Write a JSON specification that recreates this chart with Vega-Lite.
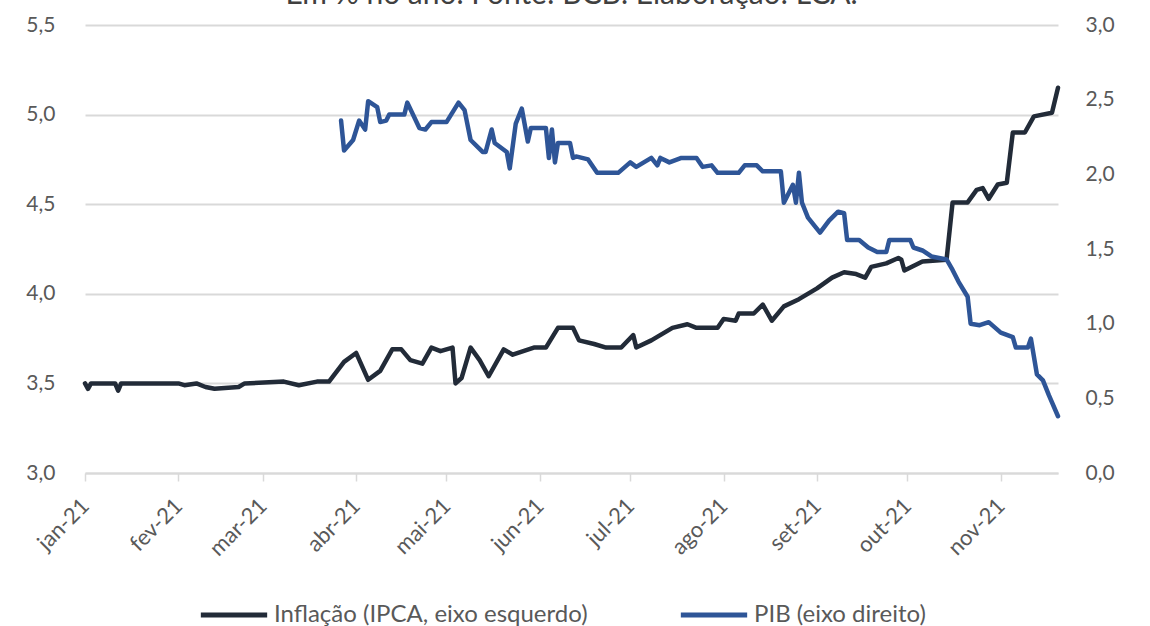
{
  "$schema": "https://vega.github.io/schema/vega-lite/v6.json",
  "width": 973,
  "height": 448,
  "autosize": {"type": "none"},
  "padding": {"left": 85, "top": 25, "right": 92, "bottom": 153},
  "background": "white",
  "config": {
    "font": "Lato",
    "view": {"stroke": null},
    "axis": {"labelFont": "Lato", "labelFontSize": 21, "labelColor": "#595959", "title": null}
  },
  "title": {
    "text": "Em % no ano. Fonte: BCB. Elaboração: LCA.",
    "frame": "group",
    "anchor": "middle",
    "baseline": "alphabetic",
    "offset": 4,
    "dy": 24,
    "fontSize": 30,
    "fontWeight": "normal",
    "font": "Lato",
    "color": "#404040"
  },
  "data": {
    "values": [
      {"data": "2021-01-01", "serie": "Inflação (IPCA, eixo esquerdo)", "valor": 3.50},
      {"data": "2021-01-02", "serie": "Inflação (IPCA, eixo esquerdo)", "valor": 3.47},
      {"data": "2021-01-03", "serie": "Inflação (IPCA, eixo esquerdo)", "valor": 3.50},
      {"data": "2021-01-11", "serie": "Inflação (IPCA, eixo esquerdo)", "valor": 3.50},
      {"data": "2021-01-12", "serie": "Inflação (IPCA, eixo esquerdo)", "valor": 3.46},
      {"data": "2021-01-13", "serie": "Inflação (IPCA, eixo esquerdo)", "valor": 3.50},
      {"data": "2021-02-01", "serie": "Inflação (IPCA, eixo esquerdo)", "valor": 3.50},
      {"data": "2021-02-03", "serie": "Inflação (IPCA, eixo esquerdo)", "valor": 3.49},
      {"data": "2021-02-07", "serie": "Inflação (IPCA, eixo esquerdo)", "valor": 3.50},
      {"data": "2021-02-10", "serie": "Inflação (IPCA, eixo esquerdo)", "valor": 3.48},
      {"data": "2021-02-13", "serie": "Inflação (IPCA, eixo esquerdo)", "valor": 3.47},
      {"data": "2021-02-21", "serie": "Inflação (IPCA, eixo esquerdo)", "valor": 3.48},
      {"data": "2021-02-23", "serie": "Inflação (IPCA, eixo esquerdo)", "valor": 3.50},
      {"data": "2021-03-08", "serie": "Inflação (IPCA, eixo esquerdo)", "valor": 3.51},
      {"data": "2021-03-13", "serie": "Inflação (IPCA, eixo esquerdo)", "valor": 3.49},
      {"data": "2021-03-19", "serie": "Inflação (IPCA, eixo esquerdo)", "valor": 3.51},
      {"data": "2021-03-23", "serie": "Inflação (IPCA, eixo esquerdo)", "valor": 3.51},
      {"data": "2021-03-28", "serie": "Inflação (IPCA, eixo esquerdo)", "valor": 3.62},
      {"data": "2021-04-01", "serie": "Inflação (IPCA, eixo esquerdo)", "valor": 3.67},
      {"data": "2021-04-05", "serie": "Inflação (IPCA, eixo esquerdo)", "valor": 3.52},
      {"data": "2021-04-09", "serie": "Inflação (IPCA, eixo esquerdo)", "valor": 3.57},
      {"data": "2021-04-13", "serie": "Inflação (IPCA, eixo esquerdo)", "valor": 3.69},
      {"data": "2021-04-16", "serie": "Inflação (IPCA, eixo esquerdo)", "valor": 3.69},
      {"data": "2021-04-19", "serie": "Inflação (IPCA, eixo esquerdo)", "valor": 3.63},
      {"data": "2021-04-23", "serie": "Inflação (IPCA, eixo esquerdo)", "valor": 3.61},
      {"data": "2021-04-26", "serie": "Inflação (IPCA, eixo esquerdo)", "valor": 3.70},
      {"data": "2021-04-29", "serie": "Inflação (IPCA, eixo esquerdo)", "valor": 3.68},
      {"data": "2021-05-03", "serie": "Inflação (IPCA, eixo esquerdo)", "valor": 3.70},
      {"data": "2021-05-04", "serie": "Inflação (IPCA, eixo esquerdo)", "valor": 3.50},
      {"data": "2021-05-06", "serie": "Inflação (IPCA, eixo esquerdo)", "valor": 3.53},
      {"data": "2021-05-09", "serie": "Inflação (IPCA, eixo esquerdo)", "valor": 3.70},
      {"data": "2021-05-12", "serie": "Inflação (IPCA, eixo esquerdo)", "valor": 3.63},
      {"data": "2021-05-15", "serie": "Inflação (IPCA, eixo esquerdo)", "valor": 3.54},
      {"data": "2021-05-20", "serie": "Inflação (IPCA, eixo esquerdo)", "valor": 3.69},
      {"data": "2021-05-23", "serie": "Inflação (IPCA, eixo esquerdo)", "valor": 3.66},
      {"data": "2021-05-30", "serie": "Inflação (IPCA, eixo esquerdo)", "valor": 3.70},
      {"data": "2021-06-03", "serie": "Inflação (IPCA, eixo esquerdo)", "valor": 3.70},
      {"data": "2021-06-07", "serie": "Inflação (IPCA, eixo esquerdo)", "valor": 3.81},
      {"data": "2021-06-12", "serie": "Inflação (IPCA, eixo esquerdo)", "valor": 3.81},
      {"data": "2021-06-14", "serie": "Inflação (IPCA, eixo esquerdo)", "valor": 3.74},
      {"data": "2021-06-19", "serie": "Inflação (IPCA, eixo esquerdo)", "valor": 3.72},
      {"data": "2021-06-23", "serie": "Inflação (IPCA, eixo esquerdo)", "valor": 3.70},
      {"data": "2021-06-28", "serie": "Inflação (IPCA, eixo esquerdo)", "valor": 3.70},
      {"data": "2021-07-02", "serie": "Inflação (IPCA, eixo esquerdo)", "valor": 3.77},
      {"data": "2021-07-03", "serie": "Inflação (IPCA, eixo esquerdo)", "valor": 3.70},
      {"data": "2021-07-08", "serie": "Inflação (IPCA, eixo esquerdo)", "valor": 3.74},
      {"data": "2021-07-15", "serie": "Inflação (IPCA, eixo esquerdo)", "valor": 3.81},
      {"data": "2021-07-20", "serie": "Inflação (IPCA, eixo esquerdo)", "valor": 3.83},
      {"data": "2021-07-23", "serie": "Inflação (IPCA, eixo esquerdo)", "valor": 3.81},
      {"data": "2021-07-30", "serie": "Inflação (IPCA, eixo esquerdo)", "valor": 3.81},
      {"data": "2021-08-01", "serie": "Inflação (IPCA, eixo esquerdo)", "valor": 3.86},
      {"data": "2021-08-05", "serie": "Inflação (IPCA, eixo esquerdo)", "valor": 3.85},
      {"data": "2021-08-06", "serie": "Inflação (IPCA, eixo esquerdo)", "valor": 3.89},
      {"data": "2021-08-11", "serie": "Inflação (IPCA, eixo esquerdo)", "valor": 3.89},
      {"data": "2021-08-14", "serie": "Inflação (IPCA, eixo esquerdo)", "valor": 3.94},
      {"data": "2021-08-17", "serie": "Inflação (IPCA, eixo esquerdo)", "valor": 3.85},
      {"data": "2021-08-21", "serie": "Inflação (IPCA, eixo esquerdo)", "valor": 3.93},
      {"data": "2021-08-26", "serie": "Inflação (IPCA, eixo esquerdo)", "valor": 3.97},
      {"data": "2021-09-01", "serie": "Inflação (IPCA, eixo esquerdo)", "valor": 4.03},
      {"data": "2021-09-06", "serie": "Inflação (IPCA, eixo esquerdo)", "valor": 4.09},
      {"data": "2021-09-10", "serie": "Inflação (IPCA, eixo esquerdo)", "valor": 4.12},
      {"data": "2021-09-14", "serie": "Inflação (IPCA, eixo esquerdo)", "valor": 4.11},
      {"data": "2021-09-17", "serie": "Inflação (IPCA, eixo esquerdo)", "valor": 4.09},
      {"data": "2021-09-19", "serie": "Inflação (IPCA, eixo esquerdo)", "valor": 4.15},
      {"data": "2021-09-24", "serie": "Inflação (IPCA, eixo esquerdo)", "valor": 4.17},
      {"data": "2021-09-28", "serie": "Inflação (IPCA, eixo esquerdo)", "valor": 4.20},
      {"data": "2021-09-29", "serie": "Inflação (IPCA, eixo esquerdo)", "valor": 4.19},
      {"data": "2021-09-30", "serie": "Inflação (IPCA, eixo esquerdo)", "valor": 4.13},
      {"data": "2021-10-06", "serie": "Inflação (IPCA, eixo esquerdo)", "valor": 4.18},
      {"data": "2021-10-14", "serie": "Inflação (IPCA, eixo esquerdo)", "valor": 4.19},
      {"data": "2021-10-16", "serie": "Inflação (IPCA, eixo esquerdo)", "valor": 4.51},
      {"data": "2021-10-21", "serie": "Inflação (IPCA, eixo esquerdo)", "valor": 4.51},
      {"data": "2021-10-24", "serie": "Inflação (IPCA, eixo esquerdo)", "valor": 4.58},
      {"data": "2021-10-26", "serie": "Inflação (IPCA, eixo esquerdo)", "valor": 4.59},
      {"data": "2021-10-28", "serie": "Inflação (IPCA, eixo esquerdo)", "valor": 4.53},
      {"data": "2021-10-31", "serie": "Inflação (IPCA, eixo esquerdo)", "valor": 4.61},
      {"data": "2021-11-03", "serie": "Inflação (IPCA, eixo esquerdo)", "valor": 4.62},
      {"data": "2021-11-05", "serie": "Inflação (IPCA, eixo esquerdo)", "valor": 4.90},
      {"data": "2021-11-09", "serie": "Inflação (IPCA, eixo esquerdo)", "valor": 4.90},
      {"data": "2021-11-12", "serie": "Inflação (IPCA, eixo esquerdo)", "valor": 4.99},
      {"data": "2021-11-18", "serie": "Inflação (IPCA, eixo esquerdo)", "valor": 5.01},
      {"data": "2021-11-20", "serie": "Inflação (IPCA, eixo esquerdo)", "valor": 5.15},
      {"data": "2021-03-27", "serie": "PIB (eixo direito)", "valor": 2.36},
      {"data": "2021-03-28", "serie": "PIB (eixo direito)", "valor": 2.16},
      {"data": "2021-03-31", "serie": "PIB (eixo direito)", "valor": 2.23},
      {"data": "2021-04-02", "serie": "PIB (eixo direito)", "valor": 2.36},
      {"data": "2021-04-04", "serie": "PIB (eixo direito)", "valor": 2.30},
      {"data": "2021-04-05", "serie": "PIB (eixo direito)", "valor": 2.49},
      {"data": "2021-04-08", "serie": "PIB (eixo direito)", "valor": 2.45},
      {"data": "2021-04-09", "serie": "PIB (eixo direito)", "valor": 2.35},
      {"data": "2021-04-11", "serie": "PIB (eixo direito)", "valor": 2.36},
      {"data": "2021-04-12", "serie": "PIB (eixo direito)", "valor": 2.40},
      {"data": "2021-04-17", "serie": "PIB (eixo direito)", "valor": 2.40},
      {"data": "2021-04-18", "serie": "PIB (eixo direito)", "valor": 2.48},
      {"data": "2021-04-22", "serie": "PIB (eixo direito)", "valor": 2.31},
      {"data": "2021-04-24", "serie": "PIB (eixo direito)", "valor": 2.30},
      {"data": "2021-04-26", "serie": "PIB (eixo direito)", "valor": 2.35},
      {"data": "2021-05-01", "serie": "PIB (eixo direito)", "valor": 2.35},
      {"data": "2021-05-05", "serie": "PIB (eixo direito)", "valor": 2.48},
      {"data": "2021-05-07", "serie": "PIB (eixo direito)", "valor": 2.43},
      {"data": "2021-05-09", "serie": "PIB (eixo direito)", "valor": 2.23},
      {"data": "2021-05-13", "serie": "PIB (eixo direito)", "valor": 2.15},
      {"data": "2021-05-14", "serie": "PIB (eixo direito)", "valor": 2.15},
      {"data": "2021-05-16", "serie": "PIB (eixo direito)", "valor": 2.30},
      {"data": "2021-05-17", "serie": "PIB (eixo direito)", "valor": 2.21},
      {"data": "2021-05-21", "serie": "PIB (eixo direito)", "valor": 2.15},
      {"data": "2021-05-22", "serie": "PIB (eixo direito)", "valor": 2.04},
      {"data": "2021-05-24", "serie": "PIB (eixo direito)", "valor": 2.34},
      {"data": "2021-05-26", "serie": "PIB (eixo direito)", "valor": 2.44},
      {"data": "2021-05-28", "serie": "PIB (eixo direito)", "valor": 2.22},
      {"data": "2021-05-29", "serie": "PIB (eixo direito)", "valor": 2.31},
      {"data": "2021-06-03", "serie": "PIB (eixo direito)", "valor": 2.31},
      {"data": "2021-06-04", "serie": "PIB (eixo direito)", "valor": 2.11},
      {"data": "2021-06-05", "serie": "PIB (eixo direito)", "valor": 2.30},
      {"data": "2021-06-06", "serie": "PIB (eixo direito)", "valor": 2.08},
      {"data": "2021-06-07", "serie": "PIB (eixo direito)", "valor": 2.21},
      {"data": "2021-06-11", "serie": "PIB (eixo direito)", "valor": 2.21},
      {"data": "2021-06-12", "serie": "PIB (eixo direito)", "valor": 2.11},
      {"data": "2021-06-13", "serie": "PIB (eixo direito)", "valor": 2.12},
      {"data": "2021-06-17", "serie": "PIB (eixo direito)", "valor": 2.10},
      {"data": "2021-06-20", "serie": "PIB (eixo direito)", "valor": 2.01},
      {"data": "2021-06-27", "serie": "PIB (eixo direito)", "valor": 2.01},
      {"data": "2021-07-01", "serie": "PIB (eixo direito)", "valor": 2.08},
      {"data": "2021-07-03", "serie": "PIB (eixo direito)", "valor": 2.05},
      {"data": "2021-07-08", "serie": "PIB (eixo direito)", "valor": 2.11},
      {"data": "2021-07-10", "serie": "PIB (eixo direito)", "valor": 2.06},
      {"data": "2021-07-11", "serie": "PIB (eixo direito)", "valor": 2.11},
      {"data": "2021-07-14", "serie": "PIB (eixo direito)", "valor": 2.08},
      {"data": "2021-07-18", "serie": "PIB (eixo direito)", "valor": 2.11},
      {"data": "2021-07-23", "serie": "PIB (eixo direito)", "valor": 2.11},
      {"data": "2021-07-25", "serie": "PIB (eixo direito)", "valor": 2.05},
      {"data": "2021-07-28", "serie": "PIB (eixo direito)", "valor": 2.06},
      {"data": "2021-07-30", "serie": "PIB (eixo direito)", "valor": 2.01},
      {"data": "2021-08-06", "serie": "PIB (eixo direito)", "valor": 2.01},
      {"data": "2021-08-08", "serie": "PIB (eixo direito)", "valor": 2.06},
      {"data": "2021-08-12", "serie": "PIB (eixo direito)", "valor": 2.06},
      {"data": "2021-08-14", "serie": "PIB (eixo direito)", "valor": 2.02},
      {"data": "2021-08-20", "serie": "PIB (eixo direito)", "valor": 2.02},
      {"data": "2021-08-21", "serie": "PIB (eixo direito)", "valor": 1.81},
      {"data": "2021-08-24", "serie": "PIB (eixo direito)", "valor": 1.93},
      {"data": "2021-08-25", "serie": "PIB (eixo direito)", "valor": 1.81},
      {"data": "2021-08-26", "serie": "PIB (eixo direito)", "valor": 2.01},
      {"data": "2021-08-27", "serie": "PIB (eixo direito)", "valor": 1.81},
      {"data": "2021-08-29", "serie": "PIB (eixo direito)", "valor": 1.71},
      {"data": "2021-09-02", "serie": "PIB (eixo direito)", "valor": 1.61},
      {"data": "2021-09-05", "serie": "PIB (eixo direito)", "valor": 1.69},
      {"data": "2021-09-08", "serie": "PIB (eixo direito)", "valor": 1.75},
      {"data": "2021-09-10", "serie": "PIB (eixo direito)", "valor": 1.74},
      {"data": "2021-09-11", "serie": "PIB (eixo direito)", "valor": 1.56},
      {"data": "2021-09-15", "serie": "PIB (eixo direito)", "valor": 1.56},
      {"data": "2021-09-18", "serie": "PIB (eixo direito)", "valor": 1.51},
      {"data": "2021-09-21", "serie": "PIB (eixo direito)", "valor": 1.48},
      {"data": "2021-09-24", "serie": "PIB (eixo direito)", "valor": 1.48},
      {"data": "2021-09-25", "serie": "PIB (eixo direito)", "valor": 1.56},
      {"data": "2021-10-02", "serie": "PIB (eixo direito)", "valor": 1.56},
      {"data": "2021-10-03", "serie": "PIB (eixo direito)", "valor": 1.51},
      {"data": "2021-10-06", "serie": "PIB (eixo direito)", "valor": 1.49},
      {"data": "2021-10-09", "serie": "PIB (eixo direito)", "valor": 1.45},
      {"data": "2021-10-14", "serie": "PIB (eixo direito)", "valor": 1.43},
      {"data": "2021-10-16", "serie": "PIB (eixo direito)", "valor": 1.36},
      {"data": "2021-10-18", "serie": "PIB (eixo direito)", "valor": 1.28},
      {"data": "2021-10-21", "serie": "PIB (eixo direito)", "valor": 1.18},
      {"data": "2021-10-22", "serie": "PIB (eixo direito)", "valor": 1.00},
      {"data": "2021-10-25", "serie": "PIB (eixo direito)", "valor": 0.99},
      {"data": "2021-10-28", "serie": "PIB (eixo direito)", "valor": 1.01},
      {"data": "2021-11-01", "serie": "PIB (eixo direito)", "valor": 0.94},
      {"data": "2021-11-05", "serie": "PIB (eixo direito)", "valor": 0.91},
      {"data": "2021-11-06", "serie": "PIB (eixo direito)", "valor": 0.84},
      {"data": "2021-11-10", "serie": "PIB (eixo direito)", "valor": 0.84},
      {"data": "2021-11-11", "serie": "PIB (eixo direito)", "valor": 0.90},
      {"data": "2021-11-13", "serie": "PIB (eixo direito)", "valor": 0.66},
      {"data": "2021-11-15", "serie": "PIB (eixo direito)", "valor": 0.62},
      {"data": "2021-11-17", "serie": "PIB (eixo direito)", "valor": 0.52},
      {"data": "2021-11-20", "serie": "PIB (eixo direito)", "valor": 0.38}
    ]
  },
  "encoding": {
    "x": {
      "field": "data",
      "type": "temporal",
      "scale": {
        "type": "utc",
        "domain": [
          {"year": 2021, "month": 1, "date": 1, "utc": true},
          {"year": 2021, "month": 11, "date": 20, "utc": true}
        ]
      },
      "axis": {
        "values": [
          {"year": 2021, "month": 1, "date": 1, "utc": true},
          {"year": 2021, "month": 2, "date": 1, "utc": true},
          {"year": 2021, "month": 3, "date": 1, "utc": true},
          {"year": 2021, "month": 4, "date": 1, "utc": true},
          {"year": 2021, "month": 5, "date": 1, "utc": true},
          {"year": 2021, "month": 6, "date": 1, "utc": true},
          {"year": 2021, "month": 7, "date": 1, "utc": true},
          {"year": 2021, "month": 8, "date": 1, "utc": true},
          {"year": 2021, "month": 9, "date": 1, "utc": true},
          {"year": 2021, "month": 10, "date": 1, "utc": true},
          {"year": 2021, "month": 11, "date": 1, "utc": true}
        ],
        "labelExpr": "['jan','fev','mar','abr','mai','jun','jul','ago','set','out','nov','dez'][utcmonth(datum.value)] + '-21'",
        "labelAngle": -45,
        "labelAlign": "right",
        "labelBaseline": "middle",
        "labelPadding": 21,
        "labelFontSize": 22,
        "grid": false,
        "domain": true,
        "domainColor": "#d9d9d9",
        "domainWidth": 2,
        "ticks": true,
        "tickSize": 8,
        "tickColor": "#d9d9d9",
        "tickWidth": 1.5,
        "labelOverlap": false,
        "labelFlush": false
      }
    }
  },
  "layer": [
    {
      "transform": [{"filter": "datum.serie == 'Inflação (IPCA, eixo esquerdo)'"}],
      "mark": {"type": "line", "strokeWidth": 4.5, "strokeJoin": "round", "strokeCap": "round"},
      "encoding": {
        "y": {
          "field": "valor",
          "type": "quantitative",
          "scale": {"domain": [3, 5.5], "nice": false, "zero": false},
          "axis": {
            "orient": "left",
            "values": [3, 3.5, 4, 4.5, 5, 5.5],
            "labelExpr": "replace(format(datum.value, '.1f'), '.', ',')",
            "grid": true,
            "gridColor": "#d9d9d9",
            "gridWidth": 2,
            "domain": false,
            "ticks": false,
            "labelPadding": 30,
            "labelFlush": false
          }
        },
        "color": {
          "field": "serie",
          "type": "nominal",
          "scale": {
            "domain": ["Inflação (IPCA, eixo esquerdo)", "PIB (eixo direito)"],
            "range": ["#222b38", "#2e5597"]
          },
          "legend": {
            "orient": "none",
            "legendX": 113,
            "legendY": 554,
            "direction": "horizontal",
            "title": null,
            "symbolType": "stroke",
            "symbolSize": 4400,
            "symbolStrokeWidth": 5,
            "labelFont": "Lato",
            "labelFontSize": 24,
            "labelColor": "#595959",
            "labelLimit": 500,
            "labelOffset": 4,
            "columnPadding": 82
          }
        }
      }
    },
    {
      "transform": [{"filter": "datum.serie == 'PIB (eixo direito)'"}],
      "mark": {"type": "line", "strokeWidth": 4.5, "strokeJoin": "round", "strokeCap": "round"},
      "encoding": {
        "y": {
          "field": "valor",
          "type": "quantitative",
          "scale": {"domain": [0, 3], "nice": false},
          "axis": {
            "orient": "right",
            "values": [0, 0.5, 1, 1.5, 2, 2.5, 3],
            "labelExpr": "replace(format(datum.value, '.1f'), '.', ',')",
            "grid": false,
            "domain": false,
            "ticks": false,
            "labelPadding": 27,
            "labelFlush": false
          }
        },
        "color": {"field": "serie", "type": "nominal"}
      }
    }
  ],
  "resolve": {"scale": {"y": "independent"}}
}
